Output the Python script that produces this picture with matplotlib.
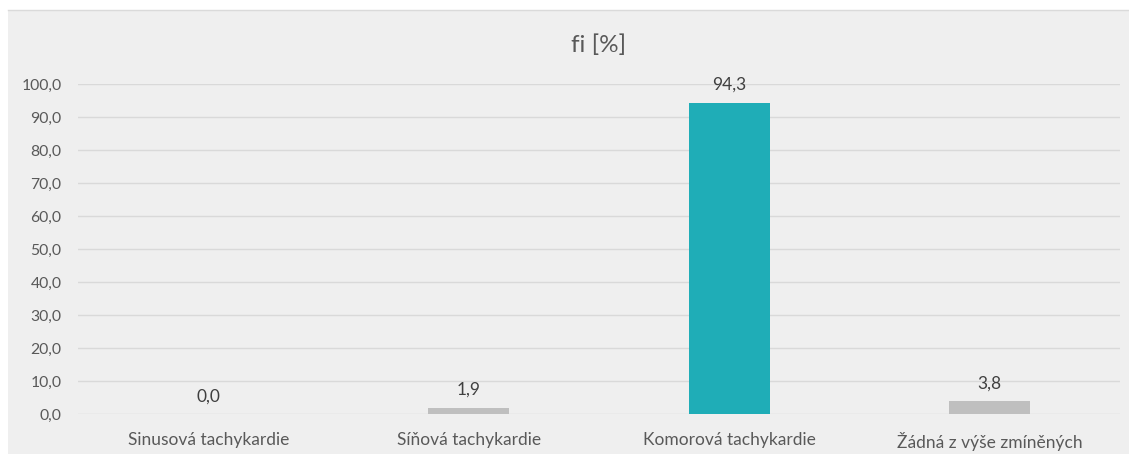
import matplotlib.pyplot as plt
from matplotlib.patches import Rectangle

categories = ["Sinusová tachykardie", "Síňová tachykardie",
              "Komorová tachykardie", "Žádná z výše zmíněných"]
values = [0.0, 1.9, 94.3, 3.8]
colors = ["#bfbfbf", "#bfbfbf", "#1fadb7", "#bfbfbf"]
yticks = [0, 10, 20, 30, 40, 50, 60, 70, 80, 90, 100]

W, H = 1129, 454
plt.rcParams['font.family'] = ['Lato', 'DejaVu Sans']
text_col = "#595959"

fig = plt.figure(figsize=(W / 100, H / 100), dpi=100)
fig.patch.set_facecolor("white")
# chart panel background
fig.patches.append(Rectangle((8 / W, 0), 1, 1 - 10 / H, transform=fig.transFigure,
                             facecolor="#efefef", edgecolor="none", zorder=-10))
fig.lines.append(plt.Line2D([8 / W, 1], [1 - 10 / H, 1 - 10 / H],
                            transform=fig.transFigure, color="#dadada", lw=1,
                            zorder=-9))

ax = fig.add_axes([78 / W, (H - 414) / H, (1120 - 78) / W, (414 - 84) / H])
ax.set_facecolor("none")
x = range(len(categories))
ax.bar(x, values, width=0.31, color=colors, zorder=3)
ax.set_xlim(-0.5, len(categories) - 0.5)
ax.set_ylim(0, 100)
ax.set_yticks(yticks)
ax.set_yticklabels([f"{v:.1f}".replace(".", ",") for v in yticks])
ax.set_xticks(list(x))
ax.set_xticklabels(categories)
ax.tick_params(length=0, colors=text_col)
ax.tick_params(axis="y", pad=12, labelsize=11.3)
ax.tick_params(axis="x", pad=13, labelsize=12.5)
ax.grid(axis="y", color="#d9d9d9", lw=1, zorder=0)
for s in ax.spines.values():
    s.set_visible(False)

for i, v in enumerate(values):
    ax.annotate(f"{v:.1f}".replace(".", ","), (i, v), xytext=(0, 7),
                textcoords="offset points", ha="center", va="bottom",
                fontsize=12.5, color="#404040")

fig.text((78 + 1120) / 2 / W, 1 - 45 / H, "fi [%]", ha="center", va="center",
         fontsize=17.5, color=text_col)

fig.savefig("out.png", dpi=100)
